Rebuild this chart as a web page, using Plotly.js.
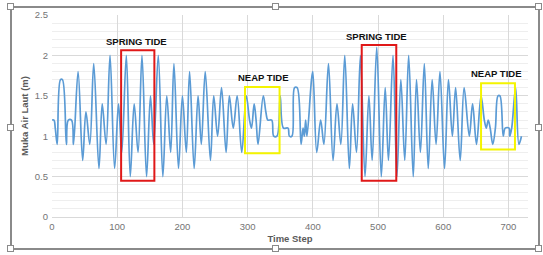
<!DOCTYPE html>
<html>
<head>
<meta charset="utf-8">
<script src="https://cdn.plot.ly/plotly-3.0.1.min.js"></script>
<style>
  html, body { margin: 0; padding: 0; background: #ffffff; }
  #wrap { position: relative; width: 543px; height: 255px; overflow: hidden; }
  #chart { position: absolute; left: 0; top: 0; width: 543px; height: 255px; }
  .frame { position: absolute; left: 10px; top: 6px; width: 530px; height: 244px; box-sizing: border-box; border: 2px solid #8a8a8a; pointer-events: none; }
  .h { position: absolute; width: 7px; height: 7px; box-sizing: border-box; background: #fff; border: 1px solid #8a8a8a; pointer-events: none; }
</style>
</head>
<body>
<div id="wrap">
  <div id="chart"></div>
  <div class="frame"></div>
  <div class="h" style="left:7px;top:3px"></div>
  <div class="h" style="left:272px;top:3px"></div>
  <div class="h" style="left:535px;top:3px"></div>
  <div class="h" style="left:7px;top:124px"></div>
  <div class="h" style="left:535px;top:124px"></div>
  <div class="h" style="left:7px;top:245px"></div>
  <div class="h" style="left:272px;top:245px"></div>
  <div class="h" style="left:535px;top:245px"></div>
</div>
<script>
// Turning points of the water level series
const timeSteps = [0,3,5,8,13,16,22,25,30,33,
  40,47,52,58,64,72,77,83,89,96,
  102,107,114,120,126,132,138,145,151,156,
  163,170,176,182,187,194,200,206,211,218,
  224,229,235,243,248,254,260,267,272,278,
  284,291,298,303,306,310,313,316,324,328,
  331,337,340,345,350,355,362,364,368,372,
  376,382,385,387,389,391,398,400,406,412,
  417,424,431,437,443,449,456,461,467,473,
  480,486,491,498,505,511,516,523,529,535,
  541,547,554,559,565,571,577,583,589,595,
  602,608,614,619,626,632,640,645,651,658,
  663,666,669,672,676,680,684,687,692,695,
  701,702,705,711,716,720];
const waterLevels = [1.2,1.2,1.1,0.9,1.7,1.7,0.9,1.2,1.2,0.9,
  1.8,0.7,1.3,0.9,1.9,0.6,1.4,0.9,2.0,0.6,
  1.4,0.8,2.0,0.5,1.4,0.8,2.0,0.5,1.5,0.9,
  2.0,0.5,1.5,0.8,1.9,0.6,1.5,0.8,1.8,0.6,
  1.5,0.9,1.8,0.7,1.5,1.0,1.6,0.8,1.5,1.1,
  1.5,0.8,1.5,1.2,1.1,1.4,1.2,0.9,1.5,1.3,
  1.2,1.2,1.0,1.0,1.5,1.1,1.1,1.0,1.0,1.6,
  1.6,0.9,1.1,1.0,1.2,1.0,1.7,1.8,0.8,1.2,
  0.9,1.9,0.7,1.4,0.9,2.0,0.6,1.4,0.8,2.0,
  0.5,1.5,0.7,2.1,0.5,1.6,0.7,2.0,0.5,1.7,
  0.7,2.0,0.5,1.7,0.8,1.9,0.6,1.7,0.9,1.8,
  0.6,1.7,1.0,1.6,0.7,1.6,1.0,1.4,0.9,1.5,
  1.2,1.1,1.2,1.1,0.9,1.1,1.5,1.5,1.0,1.1,
  1.1,1.0,1.1,1.6,0.9,1.0];

const xTickVals = [0,100,200,300,400,500,600,700];
const yTickVals = [0,0.5,1,1.5,2,2.5];
const yTickText = ['0','0.5','1','1.5','2','2.5'];
const labelTexts = ['SPRING TIDE','SPRING TIDE','NEAP TIDE','NEAP TIDE'];
const labelX = [130, 498, 325, 681];
const labelY = [2.17, 2.23, 1.73, 1.78];

const tickFont = {family: 'Liberation Sans, Arial, sans-serif', size: 9.5, color: '#747474'};
const titleFont = {family: 'Liberation Sans, Arial, sans-serif', size: 9.5, color: '#5a5a5a', weight: 'bold'};

const trace = {
  x: timeSteps, y: waterLevels, type: 'scatter', mode: 'lines',
  line: {color: '#5b9bd5', width: 1.7, shape: 'spline', smoothing: 1},
  hoverinfo: 'skip'
};

const annotations = labelTexts.map((t, i) => ({
  x: labelX[i], y: labelY[i], xref: 'x', yref: 'y', text: '<b>' + t + '</b>',
  showarrow: false, xanchor: 'center', yanchor: 'middle',
  font: {family: 'Liberation Sans, Arial, sans-serif', size: 9.5, color: '#111111'}
}));

const boxes = [
  {x0: 106, x1: 157, y0: 0.45, y1: 2.065, color: '#e01818'},
  {x0: 475, x1: 528, y0: 0.45, y1: 2.13, color: '#e01818'},
  {x0: 296, x1: 349, y0: 0.79, y1: 1.61, color: '#f4f400'},
  {x0: 658, x1: 710, y0: 0.835, y1: 1.655, color: '#f4f400'}
];
const shapes = boxes.map(b => ({
  type: 'rect', xref: 'x', yref: 'y', x0: b.x0, x1: b.x1, y0: b.y0, y1: b.y1,
  line: {color: b.color, width: 2}, fillcolor: 'rgba(0,0,0,0)', layer: 'above'
}));

const layout = {
  width: 543, height: 255,
  margin: {l: 52, r: 15, t: 15, b: 38, pad: 0},
  paper_bgcolor: '#ffffff', plot_bgcolor: '#ffffff',
  showlegend: false,
  xaxis: {
    range: [0, 730], tickvals: xTickVals, ticks: '', showline: false, zeroline: false,
    showgrid: true, gridcolor: '#d9d9d9', gridwidth: 1,
    tickfont: tickFont, ticklabelstandoff: 2,
    title: {text: 'Time Step', font: titleFont, standoff: 4}
  },
  yaxis: {
    range: [0, 2.5], tickvals: yTickVals, ticktext: yTickText, ticks: '', showline: false,
    zeroline: true, zerolinecolor: '#d9d9d9', zerolinewidth: 1,
    showgrid: true, gridcolor: '#d9d9d9', gridwidth: 1,
    minor: {dtick: 0.1, tick0: 0, showgrid: true, gridcolor: '#eeeeee', gridwidth: 1, ticks: ''},
    tickfont: tickFont, ticklabelstandoff: 3,
    title: {text: 'Muka Air Laut (m)', font: titleFont, standoff: 4}
  },
  shapes: shapes,
  annotations: annotations
};

Plotly.newPlot('chart', [trace], layout, {displayModeBar: false, staticPlot: true});
</script>
</body>
</html>
